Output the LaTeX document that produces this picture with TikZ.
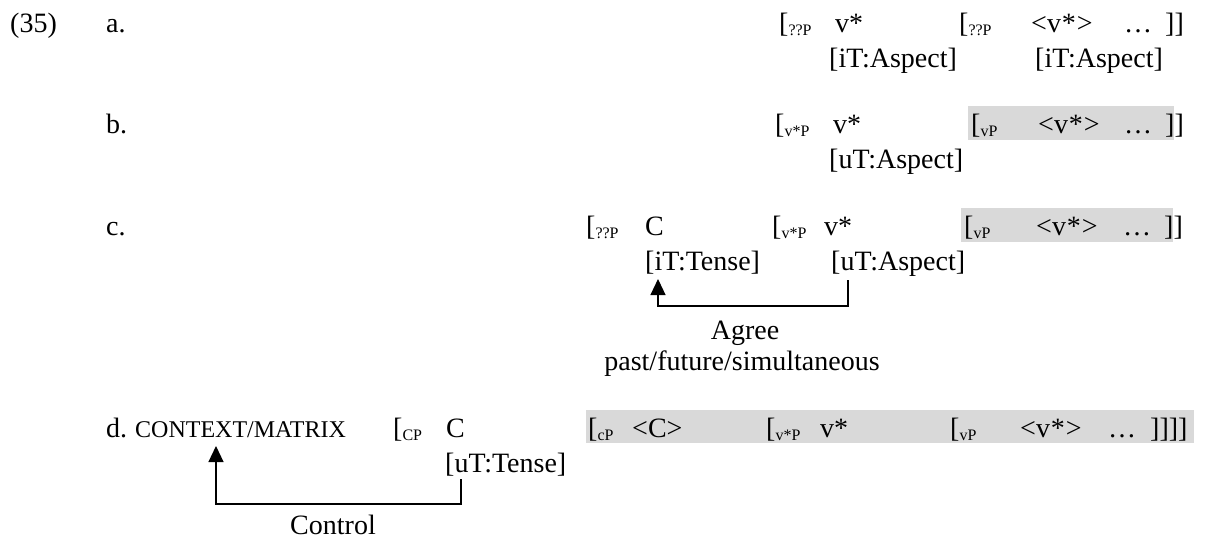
\documentclass[tikz,border=0pt]{standalone}
\usepackage{fontspec}
\setmainfont{Liberation Serif}
\usetikzlibrary{arrows.meta}
\newcommand\sbx[1]{\raisebox{-3pt}{\fontsize{16}{18}\selectfont #1}}
\definecolor{shade}{HTML}{D9D9D9}
\begin{document}
\begin{tikzpicture}[x=1pt,y=-1pt,
  t/.style={anchor=base west,inner sep=0pt,font=\fontsize{28}{34}\selectfont},
  tc/.style={anchor=base,inner sep=0pt,font=\fontsize{28}{34}\selectfont},
  sc/.style={anchor=base west,inner sep=0pt,font=\fontsize{24}{28}\selectfont},
  hl/.style={fill=shade,draw=none},
  conn/.style={line width=1.2pt},
  tip/.style={-{Triangle[width=15pt,length=16pt]}}]
\useasboundingbox (0,0) rectangle (1206,539);
% shaded spans
\fill[hl] (968,106) rectangle (1174,140);
\fill[hl] (961,208) rectangle (1173,242);
\fill[hl] (586,410) rectangle (1194,443);
% (35) a.
\node[t] (num) at (10,32) {(35)};
\node[t] (la) at (106,32) {a.};
\node[t] (aB1) at (779,32) {[\sbx{??P}};
\node[t] (av) at (835,32) {v*};
\node[t] (aB2) at (959,32) {[\sbx{??P}};
\node[t] (avv) at (1031,32) {<v\kern1pt*\kern1pt>};
\node[t] (adots) at (1124,32) {…};
\node[t] (aend) at (1165,32) {]]};
\node[t] (aF1) at (829,67) {[iT:Aspect]};
\node[t] (aF2) at (1035,67) {[iT:Aspect]};
% b.
\node[t] (lb) at (106,133) {b.};
\node[t] (bB1) at (775,133) {[\sbx{v*P}};
\node[t] (bv) at (833,133) {v*};
\node[t] (bB2) at (971,133) {[\sbx{vP}};
\node[t] (bvv) at (1038,133) {<v\kern1pt*\kern1pt>};
\node[t] (bdots) at (1124,133) {…};
\node[t] (bend) at (1165,133) {]]};
\node[t] (bF1) at (829,168) {[uT:Aspect]};
% c.
\node[t] (lc) at (106,235) {c.};
\node[t] (cB1) at (586,235) {[\sbx{??P}};
\node[t] (cC) at (645,235) {C};
\node[t] (cB2) at (772,235) {[\sbx{v*P}};
\node[t] (cv) at (824,235) {v*};
\node[t] (cB3) at (964,235) {[\sbx{vP}};
\node[t] (cvv) at (1036,235) {<v\kern1pt*\kern1pt>};
\node[t] (cdots) at (1123,235) {…};
\node[t] (cend) at (1164,235) {]]};
\node[t] (ciT) at (645,270) {[iT:Tense]};
\node[t] (cuT) at (831,270) {[uT:Aspect]};
\node[tc] (agree) at (745,339) {Agree};
\node[tc] (past) at (742,370) {past/future/simultaneous};
\coordinate (cR) at (848,280);
\coordinate (cRb) at (848,306);
\coordinate (cLb) at (658,306);
\coordinate (cL) at (658,279);
\draw[conn,tip] (cR) -- (cRb) -- (cLb) -- (cL);
% d.
\node[t] (ld) at (106,437) {d.};
\node[sc] (ctx) at (135,437) {CONTEXT/MATRIX};
\node[t] (dB1) at (393,437) {[\sbx{CP}};
\node[t] (dC) at (446,437) {C};
\node[t] (dB2) at (588,437) {[\sbx{cP}};
\node[t] (dCC) at (632,437) {<C>};
\node[t] (dB3) at (766,437) {[\sbx{v*P}};
\node[t] (dv) at (820,437) {v*};
\node[t] (dB4) at (950,437) {[\sbx{vP}};
\node[t] (dvv) at (1020,437) {<v\kern1pt*\kern1pt>};
\node[t] (ddots) at (1108,437) {…};
\node[t] (dend) at (1150,437) {]]]]};
\node[t] (duT) at (445,472) {[uT:Tense]};
\node[tc] (control) at (333,534) {Control};
\coordinate (dR) at (461,479);
\coordinate (dRb) at (461,504);
\coordinate (dLb) at (216,504);
\coordinate (dL) at (216,446);
\draw[conn,tip] (dR) -- (dRb) -- (dLb) -- (dL);
\end{tikzpicture}
\end{document}
